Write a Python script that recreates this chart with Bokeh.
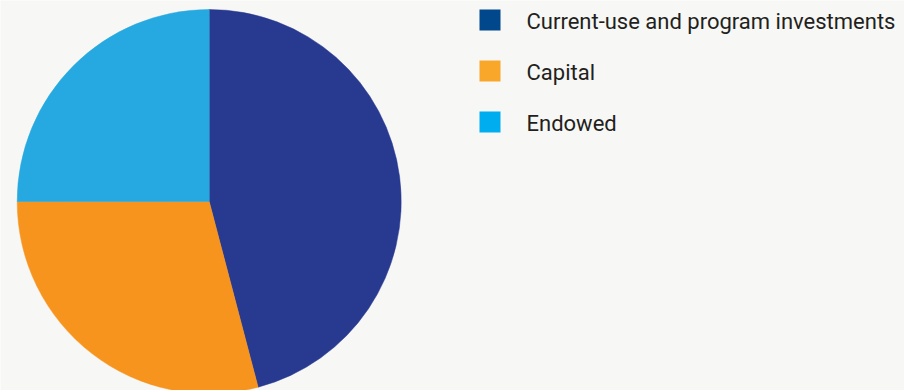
import math
from bokeh.plotting import figure
from bokeh.models import Range1d, ColumnDataSource
from bokeh.core.properties import value
from bokeh.embed import file_html
from bokeh.resources import INLINE

categories = ["Current-use and program investments", "Capital", "Endowed"]
shares = [45.9, 29.1, 25.0]
pie_colors = ["#283990", "#F7941E", "#25A9E0"]
legend_colors = ["#00478B", "#F9A72B", "#00AEEF"]

W, H = 904, 390
BG = "#F7F7F5"

p = figure(width=W, height=H, output_backend="svg", toolbar_location=None,
           x_range=Range1d(0, W), y_range=Range1d(0, H), min_border=0,
           background_fill_color=BG, border_fill_color=BG)
p.axis.visible = False
p.grid.visible = False
p.outline_line_color = None

total = sum(shares)
starts, ends = [], []
cum = 0.0
for s in shares:
    starts.append(math.pi / 2 - 2 * math.pi * cum / total)
    cum += s
    ends.append(math.pi / 2 - 2 * math.pi * cum / total)

cx, cy, r = 208.7, H - 201, 192
src = ColumnDataSource(dict(start=starts, end=ends, color=pie_colors))
p.wedge(x=cx, y=cy, radius=r, start_angle="start", end_angle="end",
        direction="clock", fill_color="color", line_color="color", line_width=0.5,
        source=src)

lx, ltop, pitch, sq = 479, 9, 51, 21
ys = [H - (ltop + sq / 2 + 1 + pitch * i) for i in range(len(categories))]
p.rect(x=[lx + sq / 2] * len(categories), y=[H - (ltop + sq / 2 + pitch * i) for i in range(len(categories))],
       width=sq, height=sq, fill_color=legend_colors, line_color=None)
p.text(x=[526] * len(categories), y=ys, text=categories,
       text_font=value("Roboto"), text_font_size="22px",
       text_color="#231F20", text_baseline="middle", text_align="left")

open("out.html", "w").write(file_html(p, INLINE))
